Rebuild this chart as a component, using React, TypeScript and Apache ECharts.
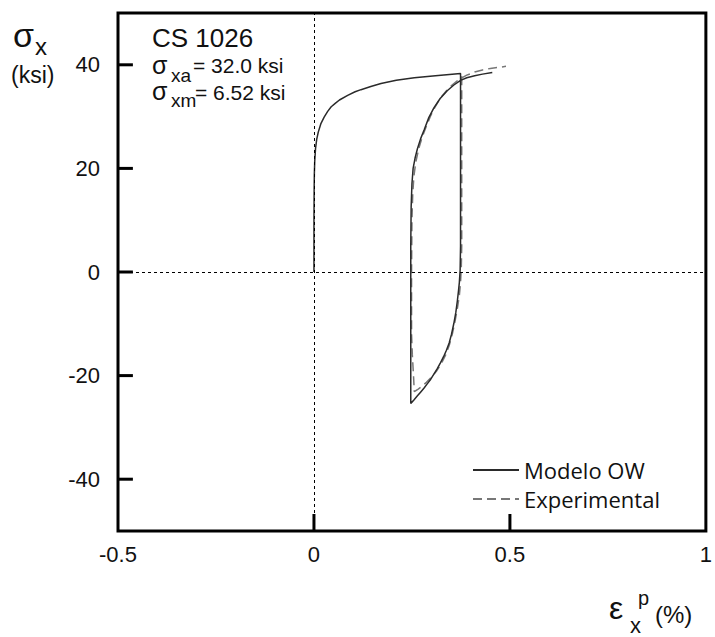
import React, { useEffect, useRef } from "react";
import * as echarts from "echarts";

// Modelo OW (solid): monotonic loading, unloading, reloading
const modelStrain = [
  0, 0, 0.0005, 0.001, 0.002, 0.004, 0.007, 0.011, 0.018, 0.026, 0.035, 0.044, 0.055, 0.065, 0.086,
  0.105, 0.12, 0.145, 0.171, 0.21, 0.256, 0.31, 0.374,
  0.374, 0.374, 0.373, 0.371, 0.369, 0.366, 0.362, 0.357, 0.351, 0.345, 0.338, 0.331, 0.323, 0.315,
  0.306, 0.298, 0.289, 0.281, 0.272, 0.264, 0.255, 0.247,
  0.247, 0.247, 0.248, 0.25, 0.253, 0.258, 0.264, 0.272, 0.281, 0.293, 0.306, 0.322, 0.34, 0.357,
  0.374, 0.39, 0.41, 0.43, 0.455,
];
const modelStress = [
  0, 10, 16, 19, 21.5, 23.8, 25.6, 27, 28.7, 29.9, 31, 31.9, 32.6, 33.2, 34.1,
  34.8, 35.2, 35.8, 36.4, 37, 37.5, 37.9, 38.3,
  20, 5, 0.4, -2, -3.5, -5.5, -7.8, -9.9, -12, -13.7, -15.1, -16.3, -17.5, -18.6,
  -19.7, -20.7, -21.6, -22.4, -23.2, -23.9, -24.7, -25.4,
  -10, 5, 12.6, 17, 20, 22, 23.8, 25.7, 27.4, 29.8, 31.7, 33.5, 35, 36.1,
  37, 37.5, 37.9, 38.2, 38.5,
];

// Experimental (dashed)
const expStrain = [
  0.377, 0.377, 0.377, 0.376, 0.374, 0.371, 0.366, 0.36, 0.353, 0.345, 0.336, 0.325, 0.313, 0.3,
  0.287, 0.275, 0.266, 0.26, 0.256,
  0.254, 0.251, 0.249, 0.249, 0.25, 0.252, 0.255, 0.26, 0.268, 0.276, 0.286, 0.298, 0.31, 0.323,
  0.338, 0.354, 0.37, 0.39, 0.41, 0.43, 0.45, 0.47, 0.49,
];
const expStress = [
  37.8, 20, 5, 1, -2, -4.5, -7, -9.5, -12, -14.2, -16, -17.7, -19.1, -20.3,
  -21.3, -22.1, -22.6, -22.9, -23.1,
  -20, -16, -12, 0, 10, 15, 18.5, 21.3, 24, 26, 28, 30.2, 32, 33.6,
  35, 36.2, 37.2, 38, 38.6, 39, 39.3, 39.5, 39.7,
];

const xTicks = [-0.5, 0, 0.5, 1];
const yTicks = [-40, -20, 0, 20, 40];
const xRange = [-0.5, 1];
const yRange = [-50, 50];
const seriesNames = ["Modelo OW", "Experimental"];

const zip = (xs: number[], ys: number[]) => xs.map((x, i) => [x, ys[i]]);

const LABEL_FONT = "Liberation Sans";

// grid layout (pixels)
const GRID = { left: 118, top: 13, width: 592, height: 518 };
// inward tick lengths converted from pixels to axis units
const Y_TICK_LEN = (15 * (xRange[1] - xRange[0])) / GRID.width;
const X_TICK_LEN = (17 * (yRange[1] - yRange[0])) / GRID.height;

const tickSegments = [
  ...yTicks.map((v) => [
    [xRange[0], v],
    [xRange[0] + Y_TICK_LEN, v],
  ]),
  ...xTicks
    .filter((v) => v > xRange[0] && v < xRange[1])
    .map((v) => [
      [v, yRange[0]],
      [v, yRange[0] + X_TICK_LEN],
    ]),
];

function txt(text: string, x: number, y: number, size: number, lineHeight?: number) {
  return {
    type: "text",
    x,
    y,
    silent: true,
    style: {
      text,
      fontSize: size,
      fontFamily: LABEL_FONT,
      fill: "#111",
      lineHeight: lineHeight ?? size,
      textAlign: "left",
      textVerticalAlign: "middle",
      align: "left",
      verticalAlign: "middle",
    },
  };
}

const texts = [
  txt("σ", 13, 34.5, 34, 28),
  txt("x", 35, 46.5, 24, 16),
  txt("(ksi)", 11, 75, 23, 22),
  txt("CS 1026", 152, 37.5, 26, 20),
  txt("σ", 152, 65, 25, 18),
  txt("xa", 171, 75, 19, 12),
  txt("= 32.0 ksi", 193, 65.5, 21, 16),
  txt("σ", 152, 91, 25, 18),
  txt("xm", 171, 100, 19, 12),
  txt("= 6.52 ksi", 195, 92.5, 21, 16),
  txt("ε", 609, 608, 32, 24),
  txt("x", 630, 625.5, 22, 16),
  txt("p", 638, 598, 20, 14),
  txt("(%)", 655, 614.5, 24, 22),
];

export default function App() {
  const ref = useRef<HTMLDivElement>(null);
  useEffect(() => {
    document.body.style.margin = "0";
    const chart = echarts.init(ref.current!, null, { renderer: "svg" });
    const tickSeries = tickSegments.map((seg, i) => ({
      name: "tick" + i,
      type: "line",
      data: seg,
      symbol: "none",
      silent: true,
      clip: false,
      lineStyle: { color: "#000", width: 3, type: "solid" },
      z: 5,
    }));
    chart.setOption({
      animation: false,
      backgroundColor: "#fff",
      grid: {
        ...GRID,
        show: true,
        borderColor: "#000",
        borderWidth: 3,
        backgroundColor: "transparent",
      },
      xAxis: {
        type: "value",
        min: xRange[0],
        max: xRange[1],
        interval: 0.5,
        axisLine: { show: false, onZero: false },
        splitLine: { show: false },
        axisTick: { show: false },
        axisLabel: {
          margin: 12,
          fontSize: 22,
          fontFamily: LABEL_FONT,
          color: "#111",
          showMinLabel: true,
          showMaxLabel: true,
        },
      },
      yAxis: {
        type: "value",
        min: yRange[0],
        max: yRange[1],
        interval: 10,
        axisLine: { show: false, onZero: false },
        splitLine: { show: false },
        axisTick: { show: false },
        axisLabel: {
          margin: 18,
          fontSize: 22,
          fontFamily: LABEL_FONT,
          color: "#111",
          customValues: yTicks,
        },
      },
      legend: {
        data: seriesNames,
        orient: "vertical",
        left: 467,
        top: 454,
        itemWidth: 46,
        itemHeight: 14,
        itemGap: 7,
        itemStyle: { opacity: 0 },
        textStyle: { fontSize: 22, lineHeight: 20, fontFamily: "Open Sans", color: "#111" },
      },
      series: [
        {
          name: seriesNames[0],
          type: "line",
          data: zip(modelStrain, modelStress),
          symbol: "none",
          smooth: false,
          lineStyle: { color: "#2a2a2a", width: 1.5 },
          itemStyle: { color: "#2a2a2a" },
          markLine: {
            silent: true,
            symbol: "none",
            label: { show: false },
            lineStyle: { color: "#000", width: 1, type: [3, 3] },
            data: [{ xAxis: 0 }, { yAxis: 0 }],
          },
          z: 3,
        },
        {
          name: seriesNames[1],
          type: "line",
          data: zip(expStrain, expStress),
          symbol: "none",
          smooth: false,
          lineStyle: { color: "#777", width: 1.5, type: [9, 5] },
          itemStyle: { color: "#777" },
          z: 2,
        },
        ...tickSeries,
      ],
      graphic: texts,
    });
    return () => chart.dispose();
  }, []);
  return <div ref={ref} style={{ width: 715, height: 637 }} />;
}
